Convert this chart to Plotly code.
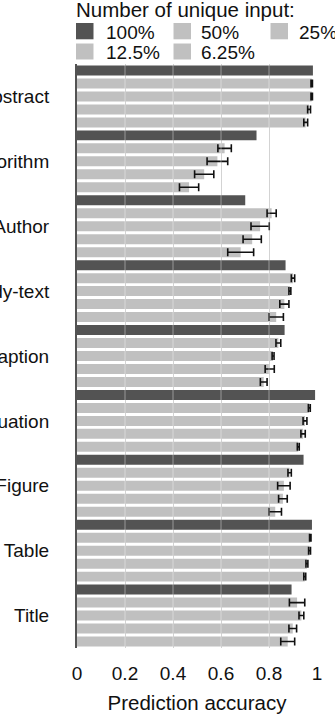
import plotly.graph_objects as go

# ---------------- data ----------------
categories = ["Abstract", "Algorithm", "Author", "Body-text", "Caption",
              "Equation", "Figure", "Table", "Title"]
series_names = ["100%", "50%", "25%", "12.5%", "6.25%"]

acc_100 = [0.983, 0.748, 0.701, 0.869, 0.865, 0.992, 0.944, 0.979, 0.894]
acc_50 = [0.978, 0.615, 0.811, 0.900, 0.839, 0.968, 0.886, 0.972, 0.917]
err_50 = [0.003, 0.028, 0.019, 0.007, 0.010, 0.004, 0.007, 0.003, 0.032]
acc_25 = [0.978, 0.585, 0.763, 0.887, 0.817, 0.950, 0.862, 0.969, 0.935]
err_25 = [0.003, 0.043, 0.038, 0.004, 0.004, 0.008, 0.026, 0.004, 0.010]
acc_12 = [0.967, 0.530, 0.730, 0.864, 0.803, 0.942, 0.858, 0.958, 0.899]
err_12 = [0.006, 0.040, 0.038, 0.019, 0.019, 0.009, 0.018, 0.004, 0.016]
acc_6 = [0.953, 0.467, 0.682, 0.830, 0.778, 0.922, 0.826, 0.949, 0.878]
err_6 = [0.008, 0.040, 0.054, 0.030, 0.014, 0.004, 0.026, 0.004, 0.029]

x_ticks = [0, 0.2, 0.4, 0.6, 0.8, 1]
x_tick_text = ["0", "0.2", "0.4", "0.6", "0.8", "1"]
legend_title = "Number of unique input:"
x_title = "Prediction accuracy"

values = [acc_100, acc_50, acc_25, acc_12, acc_6]
errors = [None, err_50, err_25, err_12, err_6]

# ---------------- style ----------------
DARK = "#535353"
LIGHT = "#c0c0c0"
colors = [DARK, LIGHT, LIGHT, LIGHT, LIGHT]
FONT = "Liberation Sans, Arial, Helvetica, sans-serif"

W, H = 335, 718
L, R, T, B = 77, 18, 64, 70
PW, PH = W - L - R, H - T - B


def px_x(px):
    return (px - L) / PW


def px_y(py):
    return (H - B - py) / PH


fig = go.Figure()
for name, vals, errs, col in zip(series_names, values, errors, colors):
    kw = {}
    if errs is not None:
        kw["error_x"] = dict(type="data", array=errs, visible=True,
                             color="#111111", thickness=1.6, width=4)
    fig.add_trace(go.Bar(
        y=categories, x=vals, orientation="h", name=name,
        marker=dict(color=col, line=dict(width=0)),
        showlegend=False, **kw))

shapes = []
# faint light gridlines drawn over the bars
for v in x_ticks[1:]:
    shapes.append(dict(type="line", xref="x", yref="paper", x0=v, x1=v,
                       y0=0, y1=1, layer="above",
                       line=dict(color="rgba(255,255,255,0.4)", width=1)))

annotations = [dict(text=legend_title, x=px_x(73.5), y=px_y(9.5), xref="paper",
                    yref="paper", xanchor="left", yanchor="middle",
                    showarrow=False, font=dict(family=FONT, size=20.5, color="#111"))]

# manual legend
sw_x = [76, 173.5, 270.5]
tx_x = [104, 199, 297]
row_sw = [(23, 39.3), (43.5, 59.5)]
row_tx = [32, 52.5]
for i, (name, col) in enumerate(zip(series_names, colors)):
    r, c = divmod(i, 3)
    shapes.append(dict(type="rect", xref="paper", yref="paper",
                       x0=px_x(sw_x[c]), x1=px_x(sw_x[c] + 17.5),
                       y0=px_y(row_sw[r][1]), y1=px_y(row_sw[r][0]),
                       fillcolor=col, line=dict(width=0)))
    annotations.append(dict(text=name, x=px_x(tx_x[c]), y=px_y(row_tx[r]),
                            xref="paper", yref="paper", xanchor="left",
                            yanchor="middle", showarrow=False,
                            font=dict(family=FONT, size=19, color="#111")))

fig.update_layout(
    width=W, height=H,
    margin=dict(l=L, r=R, t=T, b=B, autoexpand=False),
    barmode="group", bargap=0.0, bargroupgap=0.23,
    plot_bgcolor="white", paper_bgcolor="white",
    font=dict(family=FONT, size=19, color="#111"),
    shapes=shapes, annotations=annotations,
    xaxis=dict(range=[0, 1], tickvals=x_ticks, ticktext=x_tick_text,
               showgrid=True, gridcolor="#c8c8c8", gridwidth=1,
               zeroline=False, showline=False, ticks="",
               ticklabelstandoff=12, automargin=False,
               title=dict(text=x_title, standoff=12,
                          font=dict(family=FONT, size=20.5, color="#111")),
               tickfont=dict(family=FONT, size=19, color="#111")),
    yaxis=dict(categoryorder="array", categoryarray=categories,
               autorange="reversed", showgrid=False, zeroline=False,
               showline=True, linecolor=DARK, linewidth=2, ticks="",
               ticklabelstandoff=22, automargin=False,
               tickfont=dict(family=FONT, size=19, color="#111")),
)

fig.write_html(
    "out.html",
    config={"displayModeBar": False},
    post_script="document.body.style.margin='0';document.body.style.overflow='hidden';",
)
